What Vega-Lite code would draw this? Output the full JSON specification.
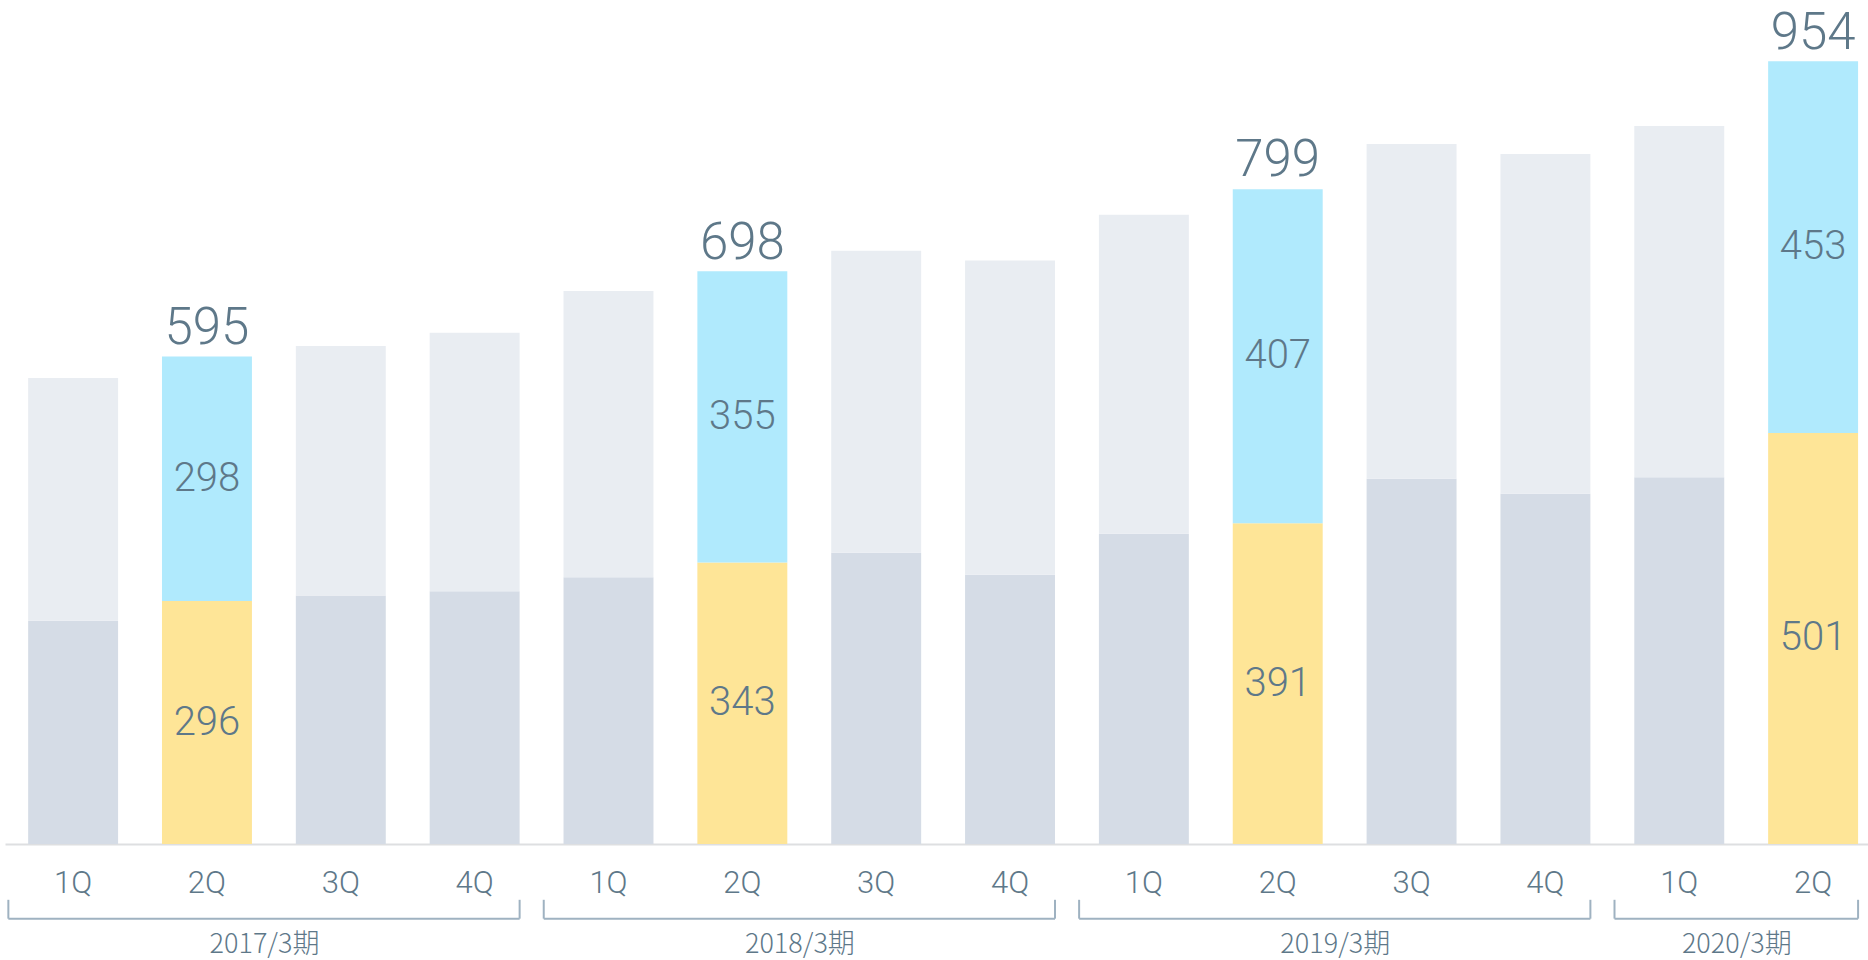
{
  "$schema": "https://vega.github.io/schema/vega-lite/v6.json",
  "width": 1863,
  "height": 844,
  "autosize": {"type": "none"},
  "padding": {"left": 5, "top": 0, "right": 0, "bottom": 116},
  "background": "#ffffff",
  "config": {
    "view": {"stroke": null},
    "font": "Noto Sans CJK JP",
    "axisX": {
      "ticks": false, "tickSize": 0, "labelPadding": 39, "labelBaseline": "middle", "labelAngle": 0,
      "labelFontSize": 31, "labelFont": "Roboto", "labelFontWeight": 300, "labelColor": "#5e7889",
      "domainColor": "#dedfe1", "domainWidth": 2, "grid": false, "title": null
    }
  },
  "datasets": {
    "bars": [
      {"key": "2017-1Q", "part": "lower", "series": "lower", "hl": false, "value": 272},
      {"key": "2017-1Q", "part": "upper", "series": "upper", "hl": false, "value": 296},
      {"key": "2017-2Q", "part": "lower", "series": "lower_hl", "hl": true, "value": 296},
      {"key": "2017-2Q", "part": "upper", "series": "upper_hl", "hl": true, "value": 298},
      {"key": "2017-3Q", "part": "lower", "series": "lower", "hl": false, "value": 303},
      {"key": "2017-3Q", "part": "upper", "series": "upper", "hl": false, "value": 304},
      {"key": "2017-4Q", "part": "lower", "series": "lower", "hl": false, "value": 308},
      {"key": "2017-4Q", "part": "upper", "series": "upper", "hl": false, "value": 315},
      {"key": "2018-1Q", "part": "lower", "series": "lower", "hl": false, "value": 325},
      {"key": "2018-1Q", "part": "upper", "series": "upper", "hl": false, "value": 349},
      {"key": "2018-2Q", "part": "lower", "series": "lower_hl", "hl": true, "value": 343},
      {"key": "2018-2Q", "part": "upper", "series": "upper_hl", "hl": true, "value": 355},
      {"key": "2018-3Q", "part": "lower", "series": "lower", "hl": false, "value": 355},
      {"key": "2018-3Q", "part": "upper", "series": "upper", "hl": false, "value": 368},
      {"key": "2018-4Q", "part": "lower", "series": "lower", "hl": false, "value": 328},
      {"key": "2018-4Q", "part": "upper", "series": "upper", "hl": false, "value": 383},
      {"key": "2019-1Q", "part": "lower", "series": "lower", "hl": false, "value": 378},
      {"key": "2019-1Q", "part": "upper", "series": "upper", "hl": false, "value": 389},
      {"key": "2019-2Q", "part": "lower", "series": "lower_hl", "hl": true, "value": 391},
      {"key": "2019-2Q", "part": "upper", "series": "upper_hl", "hl": true, "value": 407},
      {"key": "2019-3Q", "part": "lower", "series": "lower", "hl": false, "value": 445},
      {"key": "2019-3Q", "part": "upper", "series": "upper", "hl": false, "value": 408},
      {"key": "2019-4Q", "part": "lower", "series": "lower", "hl": false, "value": 427},
      {"key": "2019-4Q", "part": "upper", "series": "upper", "hl": false, "value": 414},
      {"key": "2020-1Q", "part": "lower", "series": "lower", "hl": false, "value": 447},
      {"key": "2020-1Q", "part": "upper", "series": "upper", "hl": false, "value": 428},
      {"key": "2020-2Q", "part": "lower", "series": "lower_hl", "hl": true, "value": 501},
      {"key": "2020-2Q", "part": "upper", "series": "upper_hl", "hl": true, "value": 453}
    ],
    "totals": [
      {"key": "2017-2Q", "total": 595},
      {"key": "2018-2Q", "total": 698},
      {"key": "2019-2Q", "total": 799},
      {"key": "2020-2Q", "total": 954}
    ],
    "groups": [
      {"year": "2017/3期", "first": "2017-1Q", "last": "2017-4Q", "mid": "2017-2Q"},
      {"year": "2018/3期", "first": "2018-1Q", "last": "2018-4Q", "mid": "2018-2Q"},
      {"year": "2019/3期", "first": "2019-1Q", "last": "2019-4Q", "mid": "2019-2Q"},
      {"year": "2020/3期", "first": "2020-1Q", "last": "2020-2Q", "mid": "2020-1Q"}
    ]
  },
  "resolve": {"scale": {"x": "shared", "y": "shared"}},
  "layer": [
    {
      "data": {"name": "bars"},
      "mark": {"type": "bar"},
      "encoding": {
        "x": {
          "field": "key", "type": "nominal",
          "scale": {
            "domain": ["2017-1Q","2017-2Q","2017-3Q","2017-4Q","2018-1Q","2018-2Q","2018-3Q","2018-4Q","2019-1Q","2019-2Q","2019-3Q","2019-4Q","2020-1Q","2020-2Q"],
            "paddingInner": 0.328, "paddingOuter": 0.1235, "align": 0.7, "round": false
          },
          "axis": {"title": null, "labelExpr": "split(datum.label, '-')[1]"}
        },
        "y": {
          "field": "value", "type": "quantitative", "stack": "zero",
          "scale": {"domain": [0, 1028.6], "nice": false, "zero": true},
          "axis": null
        },
        "color": {
          "field": "series", "type": "nominal",
          "scale": {"domain": ["lower","upper","lower_hl","upper_hl"], "range": ["#d5dce6","#e9edf2","#fee597","#b0eafd"]},
          "legend": null
        },
        "order": {"field": "part", "sort": "ascending"}
      }
    },
    {
      "data": {"name": "bars"},
      "transform": [{"filter": "datum.hl"}],
      "mark": {"type": "text", "font": "Roboto", "fontSize": 40, "fontWeight": 300, "color": "#5e7889", "baseline": "middle", "align": "center"},
      "encoding": {
        "x": {"field": "key", "type": "nominal", "axis": {"title": null, "labelExpr": "split(datum.label, '-')[1]"}},
        "y": {"field": "value", "type": "quantitative", "stack": "zero", "bandPosition": 0.5, "axis": null},
        "detail": {"field": "part"},
        "order": {"field": "part", "sort": "ascending"},
        "text": {"field": "value", "type": "quantitative"}
      }
    },
    {
      "data": {"name": "totals"},
      "mark": {"type": "text", "font": "Roboto", "fontSize": 51, "fontWeight": 300, "color": "#5e7889", "baseline": "alphabetic", "align": "center", "dy": -12},
      "encoding": {
        "x": {"field": "key", "type": "nominal", "axis": {"title": null, "labelExpr": "split(datum.label, '-')[1]"}},
        "y": {"field": "total", "type": "quantitative", "axis": null},
        "text": {"field": "total", "type": "quantitative"}
      }
    },
    {
      "data": {"name": "groups"},
      "mark": {"type": "rule", "color": "#9fb2c1", "strokeWidth": 2},
      "encoding": {
        "x": {"field": "first", "type": "nominal", "bandPosition": -0.22, "axis": {"title": null, "labelExpr": "split(datum.label, '-')[1]"}},
        "x2": {"field": "last", "bandPosition": 1.0},
        "y": {"datum": -91}
      }
    },
    {
      "data": {"name": "groups"},
      "mark": {"type": "rule", "color": "#9fb2c1", "strokeWidth": 2},
      "encoding": {
        "x": {"field": "first", "type": "nominal", "bandPosition": -0.22, "axis": {"title": null, "labelExpr": "split(datum.label, '-')[1]"}},
        "y": {"datum": -68},
        "y2": {"datum": -91}
      }
    },
    {
      "data": {"name": "groups"},
      "mark": {"type": "rule", "color": "#9fb2c1", "strokeWidth": 2},
      "encoding": {
        "x": {"field": "last", "type": "nominal", "bandPosition": 1.0, "axis": {"title": null, "labelExpr": "split(datum.label, '-')[1]"}},
        "y": {"datum": -68},
        "y2": {"datum": -91}
      }
    },
    {
      "data": {"name": "groups"},
      "mark": {"type": "text", "fontSize": 27, "fontWeight": 300, "color": "#5e7889", "baseline": "middle", "align": "center"},
      "encoding": {
        "x": {"field": "mid", "type": "nominal", "bandPosition": 1.14, "axis": {"title": null, "labelExpr": "split(datum.label, '-')[1]"}},
        "y": {"datum": -123},
        "text": {"field": "year"}
      }
    }
  ]
}
